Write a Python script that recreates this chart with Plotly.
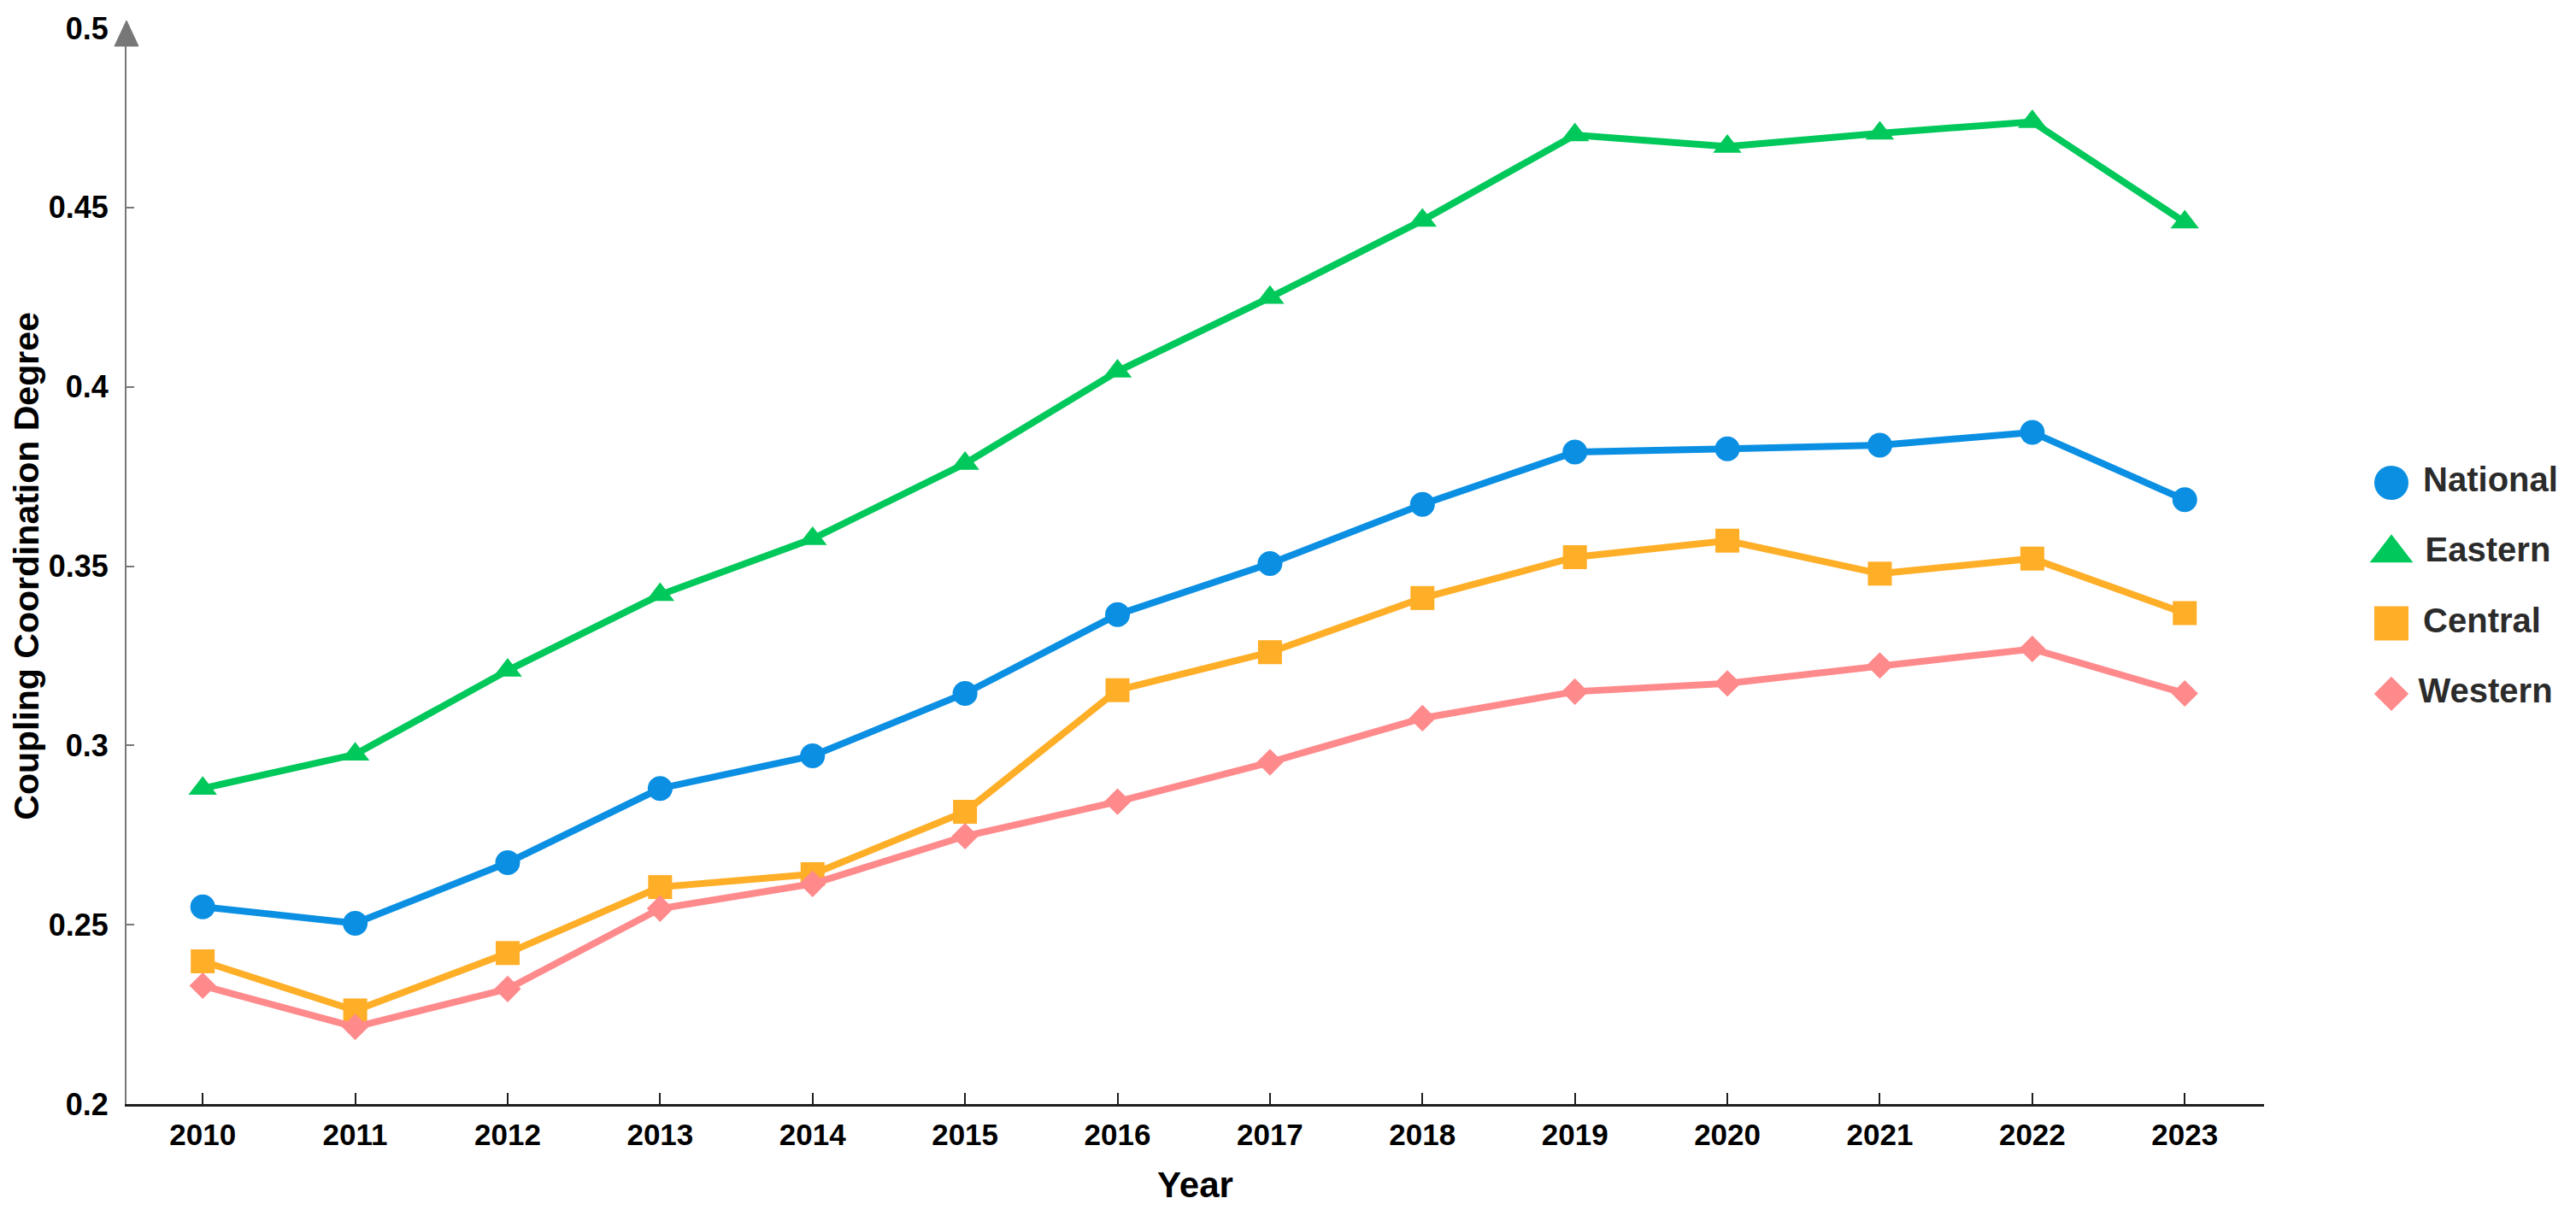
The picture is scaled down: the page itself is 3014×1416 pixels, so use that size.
import plotly.graph_objects as go

years = list(range(2010, 2024))
national = [0.255, 0.2504, 0.2673, 0.2880, 0.2971, 0.3145, 0.3365, 0.3507, 0.3672, 0.3818, 0.3827, 0.3837, 0.3873, 0.3685]
eastern = [0.2880, 0.2975, 0.3209, 0.3420, 0.3576, 0.3786, 0.4043, 0.4249, 0.4464, 0.4702, 0.4670, 0.4707, 0.4739, 0.4459]
central = [0.2398, 0.2261, 0.2421, 0.2605, 0.2641, 0.2815, 0.3154, 0.3260, 0.3411, 0.3525, 0.3571, 0.3479, 0.3521, 0.3369]
western = [0.2330, 0.2215, 0.2321, 0.2545, 0.2614, 0.2747, 0.2843, 0.2953, 0.3076, 0.3150, 0.3173, 0.3223, 0.3269, 0.3145]

names = ["National", "Eastern", "Central", "Western"]
colors = ["#0A8FE3", "#00C85A", "#FFAE27", "#FF8A8C"]
symbols = ["circle", "triangle-up", "square", "diamond"]
plot_sizes = [29, 29, 28, 24]
legend_sizes = [40, 44, 40, 31]
series = [national, eastern, central, western]

y_ticks = [0.2, 0.25, 0.3, 0.35, 0.4, 0.45, 0.5]
y_ticktext = ["0.2", "0.25", "0.3", "0.35", "0.4", "0.45", "0.5"]

FONT = "Liberation Sans, Arial, sans-serif"
OFF = 8  # default body margin of the html page
W, H = 3014 - OFF, 1416 - OFF
# target page pixels: plot left 148, top 33, bottom 1292, right 2649
ML, MT = 148 - OFF, 33 - OFF
MB = H - (1292 - OFF)
MR = 14
PW, PH = W - ML - MR, H - MT - MB
main_dom = (2649 - 148) / PW

fig = go.Figure()
for name, vals, col, sym, sz in zip(names, series, colors, symbols, plot_sizes):
    fig.add_trace(go.Scatter(
        x=years, y=vals, name=name, mode="lines+markers",
        line=dict(color=col, width=8),
        marker=dict(symbol=sym, size=sz, color=col, opacity=1, line=dict(width=0)),
        showlegend=False, xaxis="x", yaxis="y",
    ))

# custom legend (large markers) on an auxiliary, hidden axis pair
leg_rows = [0, 1, 2, 3]
fig.add_trace(go.Scatter(
    x=[0, 0, 0, 0], y=leg_rows, mode="markers+text",
    text=[" " + n for n in names], textposition="middle right",
    textfont=dict(family=FONT, size=40, color="#2B2B2B", weight="bold"),
    marker=dict(symbol=symbols, size=legend_sizes, color=colors, opacity=1, line=dict(width=0)),
    showlegend=False, xaxis="x2", yaxis="y2", hoverinfo="skip", cliponaxis=False,
))

x2_dom0 = 0.9
x2_left_page = 148 + x2_dom0 * PW
leg_x_page = 2798
# y2: 1 unit = 82.3 px, row 0 at page pixel 565
unit = 82.3
r_top = -(565 - 33) / unit
r_bot = r_top + PH / unit

fig.update_layout(
    width=W, height=H,
    margin=dict(l=ML, r=MR, t=MT, b=MB, pad=0, autoexpand=False),
    paper_bgcolor="white", plot_bgcolor="white",
    font=dict(family=FONT, color="black"),
    xaxis=dict(
        domain=[0, main_dom], range=[2009.5, 2023.52],
        tickmode="array", tickvals=years, ticktext=[str(y) for y in years],
        showgrid=False, zeroline=False, automargin=False,
        showline=True, linecolor="#1E1E1E", linewidth=3,
        ticks="inside", ticklen=13, tickwidth=2, tickcolor="#1E1E1E",
        tickfont=dict(family=FONT, size=35, color="black", weight="bold"),
        ticklabelstandoff=3,
        title=dict(text="<b>Year</b>", font=dict(family=FONT, size=42, color="black"), standoff=26),
        anchor="y",
    ),
    yaxis=dict(
        domain=[0, 1], range=[0.2, 0.5],
        tickmode="array", tickvals=y_ticks, ticktext=y_ticktext,
        showgrid=False, zeroline=False, automargin=False,
        showline=True, linecolor="#777777", linewidth=2,
        ticks="inside", ticklen=9, tickwidth=2, tickcolor="#777777",
        tickfont=dict(family=FONT, size=36, color="black", weight="bold"),
        ticklabelstandoff=12,
        title=dict(text="<b>Coupling Coordination Degree</b>", font=dict(family=FONT, size=41, color="black"), standoff=12),
        anchor="x",
    ),
    xaxis2=dict(
        domain=[x2_dom0, 1], range=[x2_left_page - leg_x_page, (W + OFF - MR) - leg_x_page],
        visible=False, fixedrange=True, anchor="y2", automargin=False,
    ),
    yaxis2=dict(
        domain=[0, 1], range=[r_bot, r_top], visible=False, fixedrange=True, anchor="x2", automargin=False,
    ),
)

# arrow head on top of the y axis (paper coordinates, from page pixels)
def px2paper(px, py):
    return (px - 148) / PW, (1292 - py) / PH

tip = px2paper(148, 24)
bl = px2paper(134, 54)
br = px2paper(162, 54)
fig.add_shape(
    type="path", xref="paper", yref="paper",
    path=f"M {bl[0]} {bl[1]} L {tip[0]} {tip[1]} L {br[0]} {br[1]} Z",
    fillcolor="#777777", line=dict(color="#777777", width=1),
)

fig.write_html("out.html")
